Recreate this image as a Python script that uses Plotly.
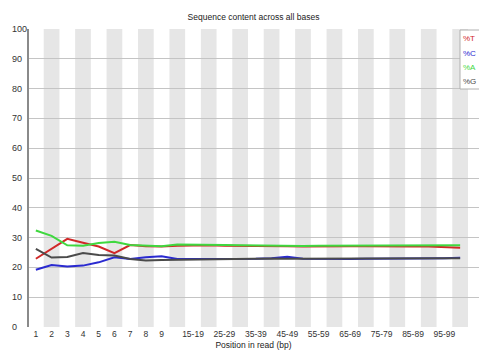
import plotly.graph_objects as go

# Per-base sequence content (percent of each base at each read position)
categories = ["1", "2", "3", "4", "5", "6", "7", "8", "9",
              "10-14", "15-19", "20-24", "25-29", "30-34", "35-39",
              "40-44", "45-49", "50-54", "55-59", "60-64", "65-69",
              "70-74", "75-79", "80-84", "85-89", "90-94", "95-99", "100-101"]

pct_T = [22.9, 26.2, 29.6, 28.3, 27.0, 24.8, 27.5, 27.1, 27.0,
         27.3, 27.4, 27.4, 27.3, 27.3, 27.2, 27.2, 27.1, 27.0, 27.1,
         27.1, 27.1, 27.1, 27.0, 27.0, 27.0, 27.0, 26.9, 26.6]
pct_C = [19.2, 20.8, 20.3, 20.6, 21.7, 23.4, 22.8, 23.4, 23.7,
         22.8, 22.8, 22.8, 22.9, 22.9, 22.9, 23.1, 23.6, 22.9, 22.8,
         22.8, 22.8, 22.9, 22.9, 22.9, 23.0, 23.0, 23.1, 23.2]
pct_A = [32.4, 30.6, 27.4, 27.3, 28.2, 28.6, 27.5, 27.3, 27.1,
         27.7, 27.7, 27.6, 27.5, 27.4, 27.3, 27.3, 27.2, 27.2, 27.3,
         27.3, 27.3, 27.3, 27.3, 27.3, 27.3, 27.3, 27.3, 27.4]
pct_G = [26.2, 23.3, 23.5, 24.8, 24.2, 24.0, 22.8, 22.3, 22.5,
         22.6, 22.7, 22.8, 22.8, 22.9, 23.0, 23.0, 22.9, 22.9, 22.9,
         22.9, 22.9, 23.0, 23.0, 23.0, 23.0, 23.0, 23.1, 23.1]

series_names = ["%T", "%C", "%A", "%G"]
series_colors = ["#d02828", "#2a2ad0", "#3fd83f", "#4a4a4a"]
series_values = [pct_T, pct_C, pct_A, pct_G]

y_ticks = [0, 10, 20, 30, 40, 50, 60, 70, 80, 90, 100]
# every category up to 9, then every other grouped bin
x_tick_labels = [c for i, c in enumerate(categories) if i < 9 or (i >= 10 and i % 2 == 0 and i < 27)]

font_family = "Liberation Sans, Arial, sans-serif"
x_idx = list(range(len(categories)))

fig = go.Figure()

# alternating shaded bands behind the positions
shapes = []
for i in x_idx:
    if i % 2 == 1:
        shapes.append(dict(type="rect", xref="x", yref="paper",
                           x0=i - 0.5, x1=i + 0.5, y0=0, y1=1,
                           fillcolor="#e6e6e6", line=dict(width=0), layer="below"))

for name, color, vals in zip(series_names, series_colors, series_values):
    fig.add_trace(go.Scatter(x=x_idx, y=vals, mode="lines", name=name,
                             line=dict(color=color, width=2), showlegend=False))

# y axis line along the left edge
shapes.append(dict(type="line", xref="paper", yref="paper", x0=0, x1=0, y0=0, y1=1,
                   line=dict(color="#8a8a8a", width=2)))

plot_w = 479 - 28
plot_h = 298
annotations = []
for v in y_ticks:
    annotations.append(dict(x=(10 - 28) / plot_w, y=v, xref="paper", yref="y",
                            text=str(v), showarrow=False, xanchor="left", yanchor="middle",
                            font=dict(family=font_family, size=9, color="#333333")))

# legend box with coloured labels in the top-right corner
legend_x0 = (460 - 28) / plot_w
shapes.append(dict(type="rect", xref="paper", yref="paper",
                   x0=legend_x0, x1=1.05, y0=1 - 60 / plot_h, y1=1 - 1 / plot_h,
                   fillcolor="white", line=dict(color="#b0b0b0", width=1)))
for k, (name, color) in enumerate(zip(series_names, series_colors)):
    annotations.append(dict(x=(461 - 28) / plot_w, y=1 - (10 + 14 * k) / plot_h,
                            xref="paper", yref="paper", text=name, showarrow=False,
                            xanchor="left", yanchor="middle",
                            font=dict(family=font_family, size=8, color=color)))

fig.update_layout(
    width=479, height=353,
    margin=dict(l=28, r=0, t=29, b=26),
    paper_bgcolor="white", plot_bgcolor="white",
    title=dict(text="Sequence content across all bases", x=(28 + plot_w / 2) / 479,
               xanchor="center", y=1 - 17 / 353, yanchor="middle",
               font=dict(family=font_family, size=8.5, color="#222222")),
    shapes=shapes,
    annotations=annotations,
    xaxis=dict(range=[-0.5, 28.2], tickmode="array",
               tickvals=[categories.index(c) for c in x_tick_labels],
               ticktext=x_tick_labels, showgrid=False, zeroline=False,
               showline=False, ticks="",
               tickfont=dict(family=font_family, size=8.5, color="#333333"),
               title=dict(text="Position in read (bp)", standoff=4,
                          font=dict(family=font_family, size=8.5, color="#222222"))),
    yaxis=dict(range=[0, 100], tickvals=y_ticks, showticklabels=False,
               showgrid=True, gridcolor="#c4c4c4", gridwidth=1,
               zeroline=False, showline=False, ticks=""),
)

fig.write_html("out.html")
